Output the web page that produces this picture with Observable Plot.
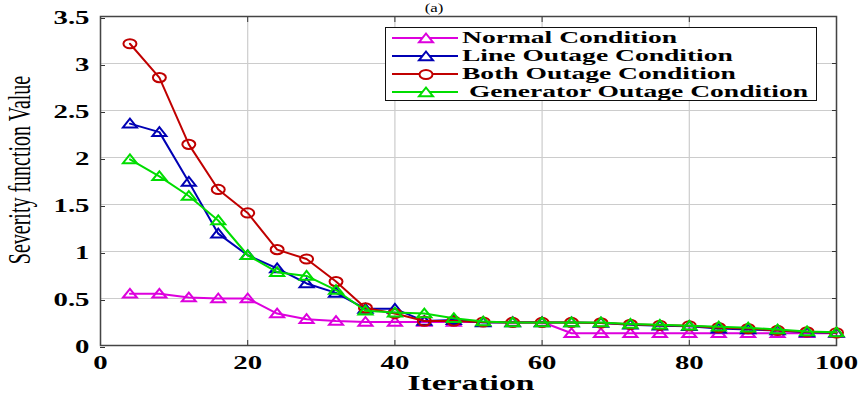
<!DOCTYPE html>
<html>
<head>
<meta charset="utf-8">
<script src="https://cdn.jsdelivr.net/npm/d3@7"></script>
<script src="https://cdn.jsdelivr.net/npm/@observablehq/plot@0.6"></script>
<style>
  html, body { margin: 0; padding: 0; background: #fff; }
  #wrap { position: relative; width: 861px; height: 396px; }
  #legend {
    position: absolute; left: 385px; top: 27px; width: 432px; height: 74px;
    border: 1.5px solid #111; background: #fff; box-sizing: border-box;
    font-family: "Liberation Serif", serif; font-weight: bold; font-size: 17px;
    padding-top: 1px;
  }
  .row { display: flex; align-items: center; height: 18px; white-space: nowrap; }
  .row svg { margin-left: 6px; margin-right: 4px; flex: none; }
  .row span { display: inline-block; transform: scaleX(1.62); transform-origin: left center; }
  svg text.serif { font-family: "Liberation Serif", serif; }
</style>
</head>
<body>
<div id="wrap"><div id="legend"></div></div>
<script>
const iterations = [4,8,12,16,20,24,28,32,36,40,44,48,52,56,60,64,68,72,76,80,84,88,92,96,100];
const normal    = [0.55,0.55,0.51,0.50,0.50,0.34,0.28,0.26,0.25,0.25,0.25,0.25,0.25,0.25,0.25,0.13,0.13,0.13,0.13,0.13,0.13,0.13,0.13,0.13,0.13];
const lineOut   = [2.36,2.27,1.74,1.19,0.96,0.82,0.66,0.56,0.39,0.39,0.26,0.27,0.245,0.245,0.245,0.245,0.24,0.22,0.21,0.205,0.18,0.17,0.16,0.14,0.135];
const bothOut   = [3.21,2.85,2.14,1.66,1.41,1.02,0.92,0.68,0.40,0.34,0.26,0.26,0.25,0.245,0.245,0.245,0.24,0.225,0.215,0.21,0.19,0.18,0.16,0.145,0.135];
const genOut    = [1.98,1.80,1.59,1.33,0.96,0.78,0.74,0.59,0.37,0.35,0.34,0.29,0.255,0.245,0.245,0.245,0.245,0.23,0.22,0.21,0.20,0.19,0.17,0.15,0.14];
const seriesNames = ["Normal Condition","Line Outage Condition","Both Outage Condition","Generator Outage Condition"];
const seriesColors = ["#dd00dd","#0000b4","#c00000","#00dd00"];
const seriesSymbols = ["triangle","triangle","circle","triangle"];
const seriesValues = [normal, lineOut, bothOut, genOut];
const xTicks = [0,20,40,60,80,100];
const yTicks = [0,0.5,1,1.5,2,2.5,3,3.5];

// wide (horizontally stretched) marker shapes
const wideTriangle = {draw(ctx) {
  ctx.moveTo(0, -5); ctx.lineTo(7, 3.8); ctx.lineTo(-7, 3.8); ctx.closePath();
}};
const wideCircle = {draw(ctx) {
  const rx = 6.5, ry = 4.6, k = 0.5523;
  ctx.moveTo(rx, 0);
  ctx.bezierCurveTo(rx, ry * k, rx * k, ry, 0, ry);
  ctx.bezierCurveTo(-rx * k, ry, -rx, ry * k, -rx, 0);
  ctx.bezierCurveTo(-rx, -ry * k, -rx * k, -ry, 0, -ry);
  ctx.bezierCurveTo(rx * k, -ry, rx, -ry * k, rx, 0);
  ctx.closePath();
}};
const symbolOf = s => s === "circle" ? wideCircle : wideTriangle;

const font = "Liberation Serif, serif";
const marks = [
  Plot.gridX(xTicks, {stroke: "#cccccc", strokeOpacity: 1, strokeWidth: 1.2}),
  Plot.gridY(yTicks, {stroke: "#cccccc", strokeOpacity: 1, strokeWidth: 1.2}),
  Plot.axisX(xTicks, {anchor: "bottom", tickSize: -5, tickPadding: 16, fontSize: 18, fontWeight: "bold", fontFamily: font, label: null, stroke: "#333"}),
  Plot.axisX(xTicks, {anchor: "top", tickSize: -5, tickFormat: () => "", label: null, stroke: "#333"}),
  Plot.axisY(yTicks, {anchor: "left", tickSize: -5, tickPadding: 16, dy: 2, fontSize: 18, fontWeight: "bold", fontFamily: font, label: null, stroke: "#333", tickFormat: d => String(d)}),
  Plot.axisY(yTicks, {anchor: "right", tickSize: -5, tickFormat: () => "", label: null, stroke: "#333"}),
  Plot.frame({stroke: "#444", strokeWidth: 1.5})
];
seriesValues.forEach((vals, i) => {
  const data = iterations.map((it, j) => ({it, v: vals[j]}));
  marks.push(Plot.line(data, {x: "it", y: "v", stroke: seriesColors[i], strokeWidth: 2}));
  marks.push(Plot.dot(data, {x: "it", y: "v", stroke: seriesColors[i], strokeWidth: 2, fill: "none",
    symbol: symbolOf(seriesSymbols[i]), r: 5}));
});

const chart = Plot.plot({
  width: 861, height: 396,
  marginLeft: 100, marginRight: 25, marginTop: 16, marginBottom: 51,
  x: {domain: [0, 100], axis: null},
  y: {domain: [0, 3.5], axis: null},
  style: {background: "#fff", overflow: "visible"},
  marks
});
document.getElementById("wrap").prepend(chart);

const svg = d3.select(chart);
const ticksSel = svg.selectAll("g[aria-label='x-axis tick label'] text, g[aria-label='y-axis tick label'] text");
ticksSel.classed("serif", true).style("font-weight", "bold").style("font-size", "18px").attr("stroke", "none");
const stretch = (sel, f) => sel.each(function() {
  const L = this.getComputedTextLength();
  if (L > 0) d3.select(this).attr("textLength", L * f).attr("lengthAdjust", "spacingAndGlyphs");
});
stretch(ticksSel, 1.6);

svg.append("text")
  .attr("class", "serif")
  .attr("transform", "translate(30,170) rotate(-90) scale(1,1.6)")
  .attr("text-anchor", "middle")
  .attr("font-size", 20)
  .attr("fill", "#000")
  .text("Severity function Value");
const it = svg.append("text")
  .attr("class", "serif")
  .attr("x", 471).attr("y", 390)
  .attr("text-anchor", "middle")
  .attr("font-weight", "bold")
  .attr("font-size", 21)
  .attr("fill", "#000")
  .text("Iteration");
stretch(it, 1.6);
const ta = svg.append("text")
  .attr("class", "serif")
  .attr("x", 434).attr("y", 12)
  .attr("text-anchor", "middle")
  .attr("font-size", 12)
  .attr("fill", "#000")
  .text("(a)");
stretch(ta, 1.4);

// Legend
const legend = d3.select("#legend");
seriesNames.forEach((name, i) => {
  const row = legend.append("div").attr("class", "row");
  const s = row.append("svg").attr("width", 66).attr("height", 14);
  s.append("line").attr("x1", 0).attr("x2", 66).attr("y1", 7).attr("y2", 7)
    .attr("stroke", seriesColors[i]).attr("stroke-width", 2);
  s.append("path").attr("d", d3.symbol(symbolOf(seriesSymbols[i]))())
    .attr("transform", "translate(34,7.5)")
    .attr("fill", "#fff").attr("stroke", seriesColors[i]).attr("stroke-width", 2);
  row.append("span").text((i === 3 ? "\u00a0" : "") + name);
});
</script>
</body>
</html>
